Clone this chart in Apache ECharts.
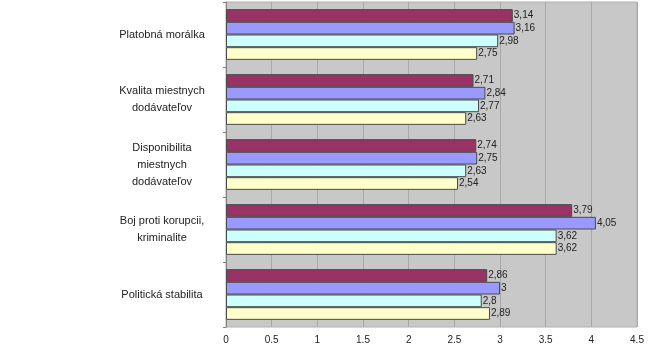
<!DOCTYPE html>
<html>
<head>
<meta charset="utf-8">
<script src="https://cdn.jsdelivr.net/npm/echarts@6/dist/echarts.min.js"></script>
<style>
  html, body { margin: 0; padding: 0; background: #fff; }
  #chart { width: 665px; height: 349px; }
</style>
</head>
<body>
<div id="chart"></div>
<script>
var categories = ['Platobná morálka', 'Kvalita miestnych\ndodávateľov', 'Disponibilita\nmiestnych\ndodávateľov', 'Boj proti korupcii,\nkriminalite', 'Politická stabilita'];
var seriesA = [3.14, 2.71, 2.74, 3.79, 2.86];
var seriesB = [3.16, 2.84, 2.75, 4.05, 3];
var seriesC = [2.98, 2.77, 2.63, 3.62, 2.8];
var seriesD = [2.75, 2.63, 2.54, 3.62, 2.89];
var seriesNames = ['Séria 1', 'Séria 2', 'Séria 3', 'Séria 4'];
var colors = ['#993366', '#9999ff', '#ccffff', '#ffffcc'];

var chart = echarts.init(document.getElementById('chart'));

function makeSeries(name, data, color) {
  return {
    name: name,
    type: 'bar',
    data: data,
    barGap: '0%',
    barCategoryGap: '22%',
    itemStyle: { color: color, borderColor: '#4a4a4a', borderWidth: 1 },
    label: {
      show: true,
      position: 'right',
      distance: 1,
      color: '#222',
      fontSize: 10,
      fontFamily: 'Liberation Sans, Arial, sans-serif',
      formatter: function (p) { return String(p.value).replace('.', ','); }
    }
  };
}

chart.setOption({
  animation: false,
  grid: {
    left: 226, right: 28, top: 2, bottom: 22,
    show: true, backgroundColor: '#c8c8c8', borderColor: '#b0b0b0', borderWidth: 1
  },
  xAxis: {
    type: 'value',
    min: 0, max: 4.5, interval: 0.5,
    axisLine: { show: false },
    axisTick: { show: false },
    axisLabel: { color: '#222', fontSize: 10, fontFamily: 'Liberation Sans, Arial, sans-serif', margin: 8 },
    splitLine: { lineStyle: { color: '#a8a8a8', width: 1 } }
  },
  yAxis: {
    type: 'category',
    data: categories,
    inverse: true,
    axisLine: { lineStyle: { color: '#808080' } },
    axisTick: { show: true, length: 3, inside: false, lineStyle: { color: '#808080' } },
    axisLabel: {
      color: '#222', fontSize: 11, fontFamily: 'Liberation Sans, Arial, sans-serif',
      align: 'center', margin: 64, lineHeight: 17
    },
    splitLine: { show: false }
  },
  series: [
    makeSeries(seriesNames[0], seriesA, colors[0]),
    makeSeries(seriesNames[1], seriesB, colors[1]),
    makeSeries(seriesNames[2], seriesC, colors[2]),
    makeSeries(seriesNames[3], seriesD, colors[3])
  ]
});
</script>
</body>
</html>
